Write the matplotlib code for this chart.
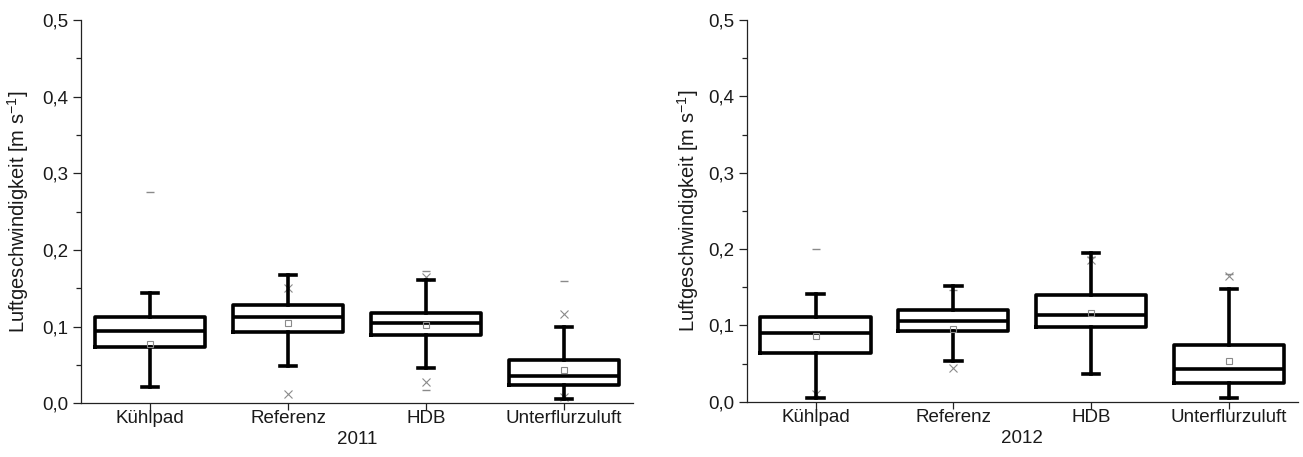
import matplotlib
matplotlib.use("Agg")
import matplotlib.pyplot as plt
from matplotlib.ticker import MultipleLocator, FuncFormatter

plt.rcParams['font.family'] = ['Liberation Sans', 'DejaVu Sans']
plt.rcParams['mathtext.default'] = 'regular'

categories = ["Kühlpad", "Referenz", "HDB", "Unterflurzuluft"]
years = ["2011", "2012"]

# 2011
whislo_2011 = [0.021, 0.049, 0.046, 0.005]
q1_2011 = [0.073, 0.093, 0.089, 0.024]
med_2011 = [0.094, 0.112, 0.105, 0.035]
q3_2011 = [0.113, 0.128, 0.118, 0.057]
whishi_2011 = [0.144, 0.168, 0.161, 0.100]
mean_2011 = [0.077, 0.105, 0.102, 0.044]
pct_2011 = [[], [0.150, 0.012], [0.165, 0.028], [0.117, 0.008]]
minmax_2011 = [[0.276], [], [0.172, 0.018], [0.160]]

# 2012
whislo_2012 = [0.0045, 0.053, 0.036, 0.005]
q1_2012 = [0.064, 0.092, 0.098, 0.0245]
med_2012 = [0.0896, 0.106, 0.113, 0.043]
q3_2012 = [0.1106, 0.120, 0.140, 0.0747]
whishi_2012 = [0.141, 0.152, 0.1945, 0.148]
mean_2012 = [0.086, 0.095, 0.116, 0.053]
pct_2012 = [[0.010], [0.0437], [0.186], [0.165]]
minmax_2012 = [[0.200], [0.146], [0.190], [0.167]]

data = {
    "2011": (whislo_2011, q1_2011, med_2011, q3_2011, whishi_2011, mean_2011, pct_2011, minmax_2011),
    "2012": (whislo_2012, q1_2012, med_2012, q3_2012, whishi_2012, mean_2012, pct_2012, minmax_2012),
}

fig = plt.figure(figsize=(13.03, 4.57), dpi=100)
axes_rects = [[0.0622, 0.1175, 0.4236, 0.8387], [0.573, 0.121, 0.4231, 0.835]]
label_x = [-0.091, -0.083]

for i, yr in enumerate(years):
    ax = fig.add_axes(axes_rects[i])
    wl, q1, md, q3, wh, mn, pct, mm = data[yr]
    stats = []
    for k, c in enumerate(categories):
        stats.append(dict(label=c, whislo=wl[k], q1=q1[k], med=md[k], q3=q3[k],
                          whishi=wh[k], mean=mn[k], fliers=[]))
    pos = list(range(1, len(categories) + 1))
    ax.bxp(stats, positions=pos, widths=0.8, showmeans=True, showfliers=False,
           boxprops=dict(color='black', linewidth=2.6),
           medianprops=dict(color='black', linewidth=2.6),
           whiskerprops=dict(color='black', linewidth=2.6),
           capprops=dict(color='black', linewidth=2.6),
           capwidths=0.12,
           meanprops=dict(marker='s', markerfacecolor='none', markeredgecolor='#8a8a8a',
                          markersize=4, markeredgewidth=0.8),
           zorder=3)
    for k in range(len(categories)):
        if pct[k]:
            ax.plot([pos[k]] * len(pct[k]), pct[k], linestyle='none', marker='x',
                    color='#8a8a8a', markersize=5.5, markeredgewidth=0.8, zorder=2)
        if mm[k]:
            ax.plot([pos[k]] * len(mm[k]), mm[k], linestyle='none', marker='_',
                    color='#8a8a8a', markersize=6, markeredgewidth=1.0, zorder=2)

    ax.set_xlim(0.5, 4.5)
    ax.set_ylim(0.0, 0.5)
    ax.yaxis.set_major_locator(MultipleLocator(0.1))
    ax.yaxis.set_minor_locator(MultipleLocator(0.05))
    ax.yaxis.set_major_formatter(FuncFormatter(lambda v, p: f"{v:.1f}".replace('.', ',')))
    ax.set_xticks(pos)
    ax.set_xticklabels(categories)
    for s in ['top', 'right']:
        ax.spines[s].set_visible(False)
    for s in ['left', 'bottom']:
        ax.spines[s].set_linewidth(0.9)
        ax.spines[s].set_color('#222222')
    ax.tick_params(axis='both', which='major', direction='out', length=6, width=0.9,
                   labelsize=13.5, colors='#222222', labelcolor='#1a1a1a')
    ax.tick_params(axis='x', which='major', length=5, pad=0)
    ax.tick_params(axis='y', which='minor', direction='out', length=3.5, width=0.9, colors='#222222')
    ax.tick_params(axis='y', pad=3)
    ax.set_xlabel(yr, fontsize=13.5, labelpad=3, color='#1a1a1a')
    ax.set_ylabel("Luftgeschwindigkeit [m s$^{-1}$]", fontsize=14.5, color='#1a1a1a')
    ax.yaxis.set_label_coords(label_x[i], 0.5)

fig.savefig("out.png", dpi=100)
